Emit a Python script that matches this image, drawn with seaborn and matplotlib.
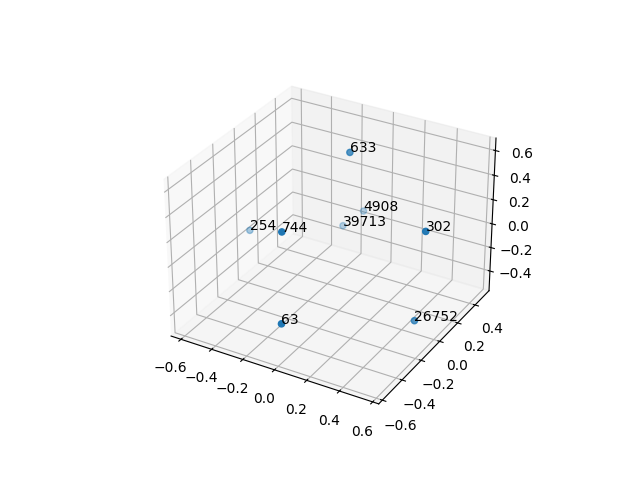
import matplotlib
matplotlib.use("Agg")
import matplotlib.pyplot as plt
import pandas as pd
import seaborn as sns

labels = [63, 633, 26752, 302, 744, 254, 39713, 4908]
xs = [-0.014, -0.053, 0.486, 0.517, -0.134, -0.64, -0.232, -0.15]
ys = [-0.543, 0.196, -0.014, 0.029, -0.348, 0.088, 0.4175, 0.5045]
zs = [-0.269, 0.586, -0.447, 0.267, 0.284, -0.197, -0.235, -0.139]

df = pd.DataFrame({"x": xs, "y": ys, "z": zs, "label": labels})

color = sns.color_palette("tab10")[0]

fig = plt.figure(figsize=(6.4, 4.8), dpi=100)
ax = fig.add_subplot(projection="3d")
ax.scatter(df["x"], df["y"], df["z"], color=color)

# label each point
for _, row in df.iterrows():
    ax.text(row["x"], row["y"], row["z"], str(int(row["label"])))

ax.set_xlim(-0.665, 0.636)
ax.set_ylim(-0.636, 0.564)
ax.set_zlim(-0.57, 0.70)

plt.savefig("out.png")
